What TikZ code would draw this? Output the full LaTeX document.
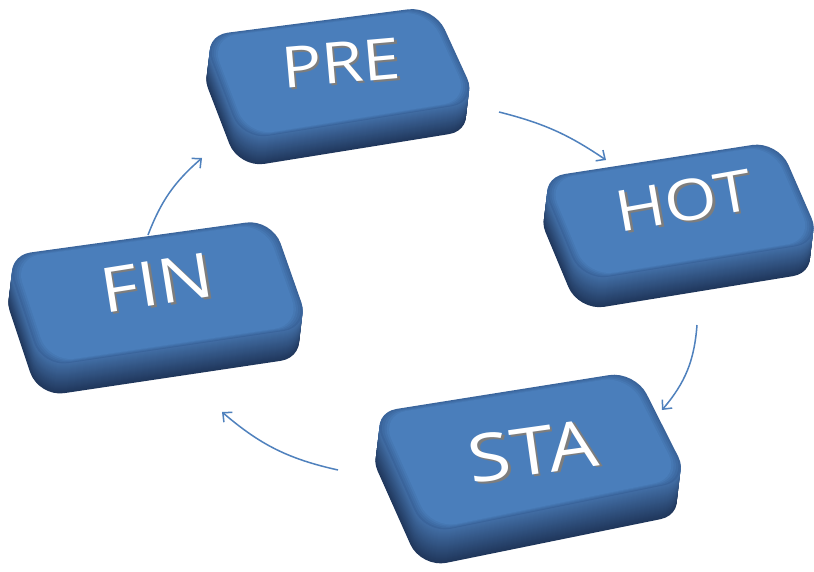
\documentclass[tikz,border=0pt]{standalone}
\usepackage{fontspec}
\setmainfont{Open Sans}
\usetikzlibrary{arrows.meta,calc}
\definecolor{topc}{RGB}{74,126,187}
\definecolor{edgec}{RGB}{58,100,155}
\definecolor{sidetop}{RGB}{66,110,165}
\definecolor{sidebot}{RGB}{32,55,92}
\definecolor{arrowc}{RGB}{79,129,189}
\definecolor{shadc}{RGB}{125,125,125}
\newcommand\slab[5]{%
  \foreach \i in {#5,...,1}{%
    \pgfmathsetmacro\pc{100*\i/#5}%
    \pgfmathsetmacro\xs{-0.12*\i}%
    \fill[sidebot!\pc!sidetop, rounded corners=26pt, yshift=-\i pt, xshift=\xs pt] #1 -- #2 -- #3 -- #4 -- cycle;
  }%
  \foreach \f/\c in {0/0,0.015/25,0.03/50,0.045/75,0.06/100}{%
    \fill[topc!\c!edgec, rounded corners=26pt]
      ($#1!\f!($#1!0.5!#3$)$) -- ($#2!\f!($#2!0.5!#4$)$) --
      ($#3!\f!($#3!0.5!#1$)$) -- ($#4!\f!($#4!0.5!#2$)$) -- cycle;
  }%
}
\newcommand\stxt[2]{\fontsize{#1}{#1}\selectfont\scalebox{1.18}[1]{\rlap{\kern1.8pt\raisebox{-2.2pt}{\color{shadc}#2}}#2}}
\tikzset{
  lbl/.style={text=white, inner sep=0pt},
  conn/.style={draw=arrowc, line width=1.5pt, -{Straight Barb[length=7pt,width=13pt]}}
}
\begin{document}
\begin{tikzpicture}[x=1pt,y=-1pt]
\useasboundingbox[fill=white] (0,0) rectangle (814,572);
% buttons
\slab{(202,36)}{(434,6)}{(478,102)}{(242,140)}{28}
\slab{(539,178)}{(778,141)}{(822,242)}{(582,281)}{30}
\slab{(5,256)}{(272,219)}{(310,327)}{(42,367)}{30}
\slab{(371,413)}{(635,371)}{(690,480)}{(425,534)}{34}
% labels
\node[lbl, rotate=5] (pre) at (341,64) {\stxt{57}{PRE}};
\node[lbl, rotate=10] (hot) at (684,202) {\stxt{57}{HOT}};
\node[lbl, rotate=9] (fin) at (157,284) {\stxt{62}{FIN}};
\node[lbl, rotate=8] (sta) at (533,452) {\stxt{66}{STA}};
% connector ends
\coordinate (a1s) at (499,112);
\coordinate (a1e) at (606,160);
\coordinate (a2s) at (697,325);
\coordinate (a2e) at (662,410);
\coordinate (a3s) at (338,470);
\coordinate (a3e) at (222,412);
\coordinate (a4s) at (148,235);
\coordinate (a4e) at (202,158);
\draw[conn] (a1s) to[bend left=10] (a1e);
\draw[conn] (a2s) to[bend left=18] (a2e);
\draw[conn] (a3s) to[bend left=14] (a3e);
\draw[conn] (a4s) to[bend left=14] (a4e);
\end{tikzpicture}
\end{document}
